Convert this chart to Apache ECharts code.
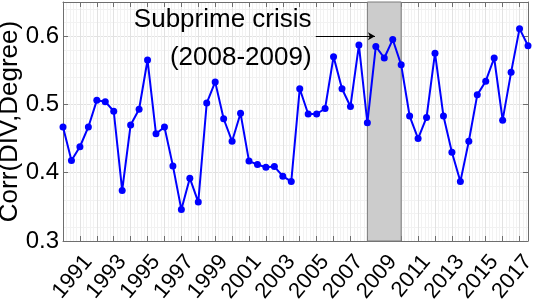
<!DOCTYPE html>
<html>
<head>
<meta charset="UTF-8">
<script src="https://cdn.jsdelivr.net/npm/echarts@6/dist/echarts.min.js"></script>
<style>
  html, body { margin: 0; padding: 0; background: #fff; }
  #chart { width: 533px; height: 300px; }
</style>
</head>
<body>
<div id="chart"></div>
<script>
// half-year points
const periods = [
  1990.0, 1990.5, 1991.0, 1991.5, 1992.0, 1992.5, 1993.0, 1993.5,
  1994.0, 1994.5, 1995.0, 1995.5, 1996.0, 1996.5, 1997.0, 1997.5,
  1998.0, 1998.5, 1999.0, 1999.5, 2000.0, 2000.5, 2001.0, 2001.5,
  2002.0, 2002.5, 2003.0, 2003.5, 2004.0, 2004.5, 2005.0, 2005.5,
  2006.0, 2006.5, 2007.0, 2007.5, 2008.0, 2008.5, 2009.0, 2009.5,
  2010.0, 2010.5, 2011.0, 2011.5, 2012.0, 2012.5, 2013.0, 2013.5,
  2014.0, 2014.5, 2015.0, 2015.5, 2016.0, 2016.5, 2017.0, 2017.5
]
const corrValues = [
  0.467, 0.418, 0.438, 0.467, 0.506, 0.504, 0.490, 0.374,
  0.470, 0.493, 0.565, 0.457, 0.467, 0.410, 0.346, 0.392,
  0.357, 0.502, 0.533, 0.479, 0.446, 0.487, 0.417, 0.412,
  0.408, 0.409, 0.395, 0.387, 0.523, 0.486, 0.486, 0.494,
  0.570, 0.523, 0.497, 0.587, 0.473, 0.585, 0.568, 0.595,
  0.558, 0.483, 0.450, 0.481, 0.575, 0.483, 0.430, 0.387,
  0.446, 0.514, 0.534, 0.568, 0.477, 0.547, 0.611, 0.586
]
const crisisSpan = [2008, 2010]
const annotationLines = ['Subprime crisis', '(2008-2009)']

const font = 'Liberation Sans, Arial, sans-serif'
const frameColor = '#6e6e6e'

const chart = echarts.init(document.getElementById('chart'))

const xBase = {
  type: 'value',
  min: 1990,
  max: 2017.5,
  interval: 1,
  axisLine: { show: true, onZero: false, lineStyle: { color: frameColor, width: 1 } },
  axisTick: { show: true, inside: true, length: 5, lineStyle: { color: frameColor } },
  minorTick: { show: false, splitNumber: 5 }
}
const yBase = {
  type: 'value',
  min: 0.3,
  max: 0.65,
  interval: 0.1,
  axisLine: { show: true, onZero: false, lineStyle: { color: frameColor, width: 1 } },
  axisTick: { show: true, inside: true, length: 5, lineStyle: { color: frameColor } },
  minorTick: { show: false, splitNumber: 5 }
}

const option = {
  animation: false,
  backgroundColor: '#fff',
  grid: { left: 63, right: 5, top: 2, bottom: 59, outerBoundsMode: 'none', containLabel: false },
  xAxis: [
    Object.assign({}, xBase, {
      position: 'bottom',
      axisLabel: {
        rotate: 50,
        fontFamily: font,
        fontSize: 22,
        color: '#000',
        margin: 10,
        verticalAlign: 'top',
        formatter: v => (Number.isInteger(v) && v % 2 === 1) ? String(v) : ''
      },
      splitLine: { show: true, lineStyle: { color: '#e2e2e2', width: 1 } },
      minorSplitLine: { show: true, lineStyle: { color: '#f2f2f2', width: 1 } }
    }),
    Object.assign({}, xBase, {
      position: 'top',
      axisLabel: { show: false },
      splitLine: { show: false }
    })
  ],
  yAxis: [
    Object.assign({}, yBase, {
      position: 'left',
      name: 'Corr(DIV,Degree)',
      nameLocation: 'middle',
      nameMoveOverlap: false,
      nameGap: 40,
      nameTextStyle: { fontFamily: font, fontSize: 26, color: '#000' },
      axisLabel: {
        fontFamily: font,
        fontSize: 24,
        color: '#000',
        margin: 4,
        formatter: v => (v > 0.61 ? '' : v.toFixed(1))
      },
      splitLine: { show: true, lineStyle: { color: '#e2e2e2', width: 1 } },
      minorSplitLine: { show: true, lineStyle: { color: '#f2f2f2', width: 1 } }
    }),
    Object.assign({}, yBase, {
      position: 'right',
      axisLabel: { show: false },
      splitLine: { show: false }
    })
  ],
  series: [{
    type: 'line',
    data: periods.map((p, i) => [p, corrValues[i]]),
    xAxisIndex: 0,
    yAxisIndex: 0,
    symbol: 'circle',
    symbolSize: 7,
    lineStyle: { color: '#0000ff', width: 2 },
    itemStyle: { color: '#0000ff' },
    silent: true,
    markArea: {
      silent: true,
      itemStyle: { color: '#cccccc', opacity: 1, borderColor: '#7a7a7a', borderWidth: 1 },
      data: [[{ xAxis: crisisSpan[0] }, { xAxis: crisisSpan[1] }]]
    },
    markLine: {
      silent: true,
      symbol: ['none', 'arrow'],
      symbolSize: [6, 7],
      lineStyle: { color: '#000', width: 1, type: 'solid' },
      label: { show: false },
      data: [[{ coord: [2004.95, 0.6] }, { coord: [2008.45, 0.6] }]]
    },
    markPoint: {
      silent: true,
      symbol: 'circle',
      symbolSize: 0,
      label: {
        show: true,
        position: 'inside',
        align: 'right',
        verticalAlign: 'middle',
        fontFamily: font,
        fontSize: 26,
        color: '#000'
      },
      data: [
        { coord: [2004.7, 0.624], value: annotationLines[0], label: { formatter: annotationLines[0] } },
        { coord: [2004.7, 0.568], value: annotationLines[1], label: { formatter: annotationLines[1] } }
      ]
    }
  }]
}

chart.setOption(option)
</script>
</body>
</html>
